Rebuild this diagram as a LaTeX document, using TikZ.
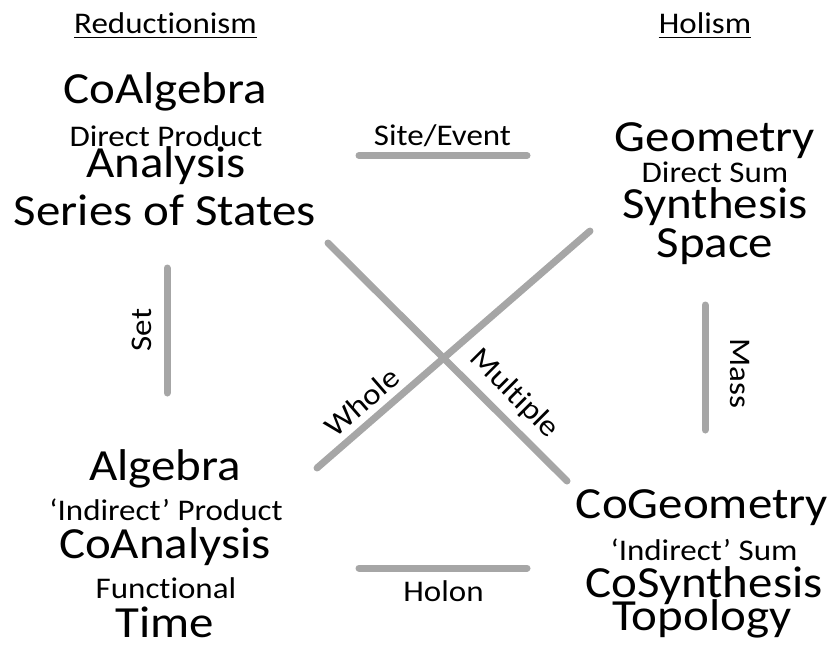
\documentclass[tikz,border=0pt]{standalone}
\usepackage{fontspec}
\setmainfont[FakeStretch=1.1, Ligatures={NoCommon,NoRare,NoContextual}]{Carlito}
\newcommand{\bigtxt}{\fontsize{44.5}{44.5}\selectfont}
\newcommand{\smalltxt}{\fontsize{30}{30}\selectfont}
\tikzset{
  word/.style={inner sep=0pt, anchor=base, text=black},
  big/.style={word, font=\bigtxt},
  small/.style={word, font=\smalltxt},
  bar/.style={draw=barGray, line width=7pt, line cap=round},
}
\definecolor{barGray}{HTML}{A6A6A6}
\begin{document}
\begin{tikzpicture}[x=1pt, y=-1pt]
  \useasboundingbox (0,0) rectangle (835,648);

  % column headings
  \node[small] (red) at (165.5,33) {Reductionism};
  \node[small] (hol) at (705,33) {Holism};
  \draw[line width=1.4pt] ([yshift=-4.5pt]red.base west) -- ([yshift=-4.5pt]red.base east);
  \draw[line width=1.4pt] ([yshift=-4.5pt]hol.base west) -- ([yshift=-4.5pt]hol.base east);

  % upper left block
  \node[big]   (coalg)  at (165,103) {CoAlgebra};
  \node[small] (dprod)  at (166,146) {Direct Product};
  \node[big]   (anal)   at (166,177) {Analysis};
  \node[big]   (series) at (165,225) {Series of States};

  % upper right block
  \node[big]   (geo)   at (715,151) {Geometry};
  \node[small] (dsum)  at (715,182) {Direct Sum};
  \node[big]   (synth) at (715,218) {Synthesis};
  \node[big]   (space) at (715,257) {Space};

  % lower left block
  \node[big]   (alg)    at (165,480) {Algebra};
  \node[small] (iprod)  at (166,520) {‘Indirect’ Product};
  \node[big]   (coanal) at (165,558) {CoAnalysis};
  \node[small] (func)   at (166,598) {Functional};
  \node[big]   (time)   at (165,637) {Time};

  % lower right block
  \node[big]   (cogeo)   at (702,518) {CoGeometry};
  \node[small] (isum)    at (704,560) {‘Indirect’ Sum};
  \node[big]   (cosynth) at (704,597) {CoSynthesis};
  \node[big]   (topo)    at (702,630) {Topology};

  % bar end points
  \coordinate (seA) at (359,155.5);  \coordinate (seB) at (527,155.5);
  \coordinate (hoA) at (359,568);    \coordinate (hoB) at (527,568);
  \coordinate (stA) at (167,268);    \coordinate (stB) at (167,393);
  \coordinate (maA) at (705,305);    \coordinate (maB) at (705,430);
  \coordinate (d1A) at (328,243);    \coordinate (d1B) at (567,481);
  \coordinate (d2A) at (317,468);    \coordinate (d2B) at (590,231);

  \draw[bar] (seA) -- (seB);
  \draw[bar] (hoA) -- (hoB);
  \draw[bar] (stA) -- (stB);
  \draw[bar] (maA) -- (maB);
  \draw[bar] (d1A) -- (d1B);
  \draw[bar] (d2A) -- (d2B);

  % bar labels
  \node[small] (site)  at (442.5,145) {Site/Event};
  \node[small] (holon) at (443.5,601) {Holon};
  \node[small, anchor=center, rotate=90]  (set)   at (142,330) {Set};
  \node[small, anchor=center, rotate=-90] (mass)  at (740,373) {Mass};
  \node[small, anchor=center, rotate=41]  (whole) at (362,402) {Whole};
  \node[small, anchor=center, rotate=-45] (mult)  at (514,394) {Multiple};
\end{tikzpicture}
\end{document}
